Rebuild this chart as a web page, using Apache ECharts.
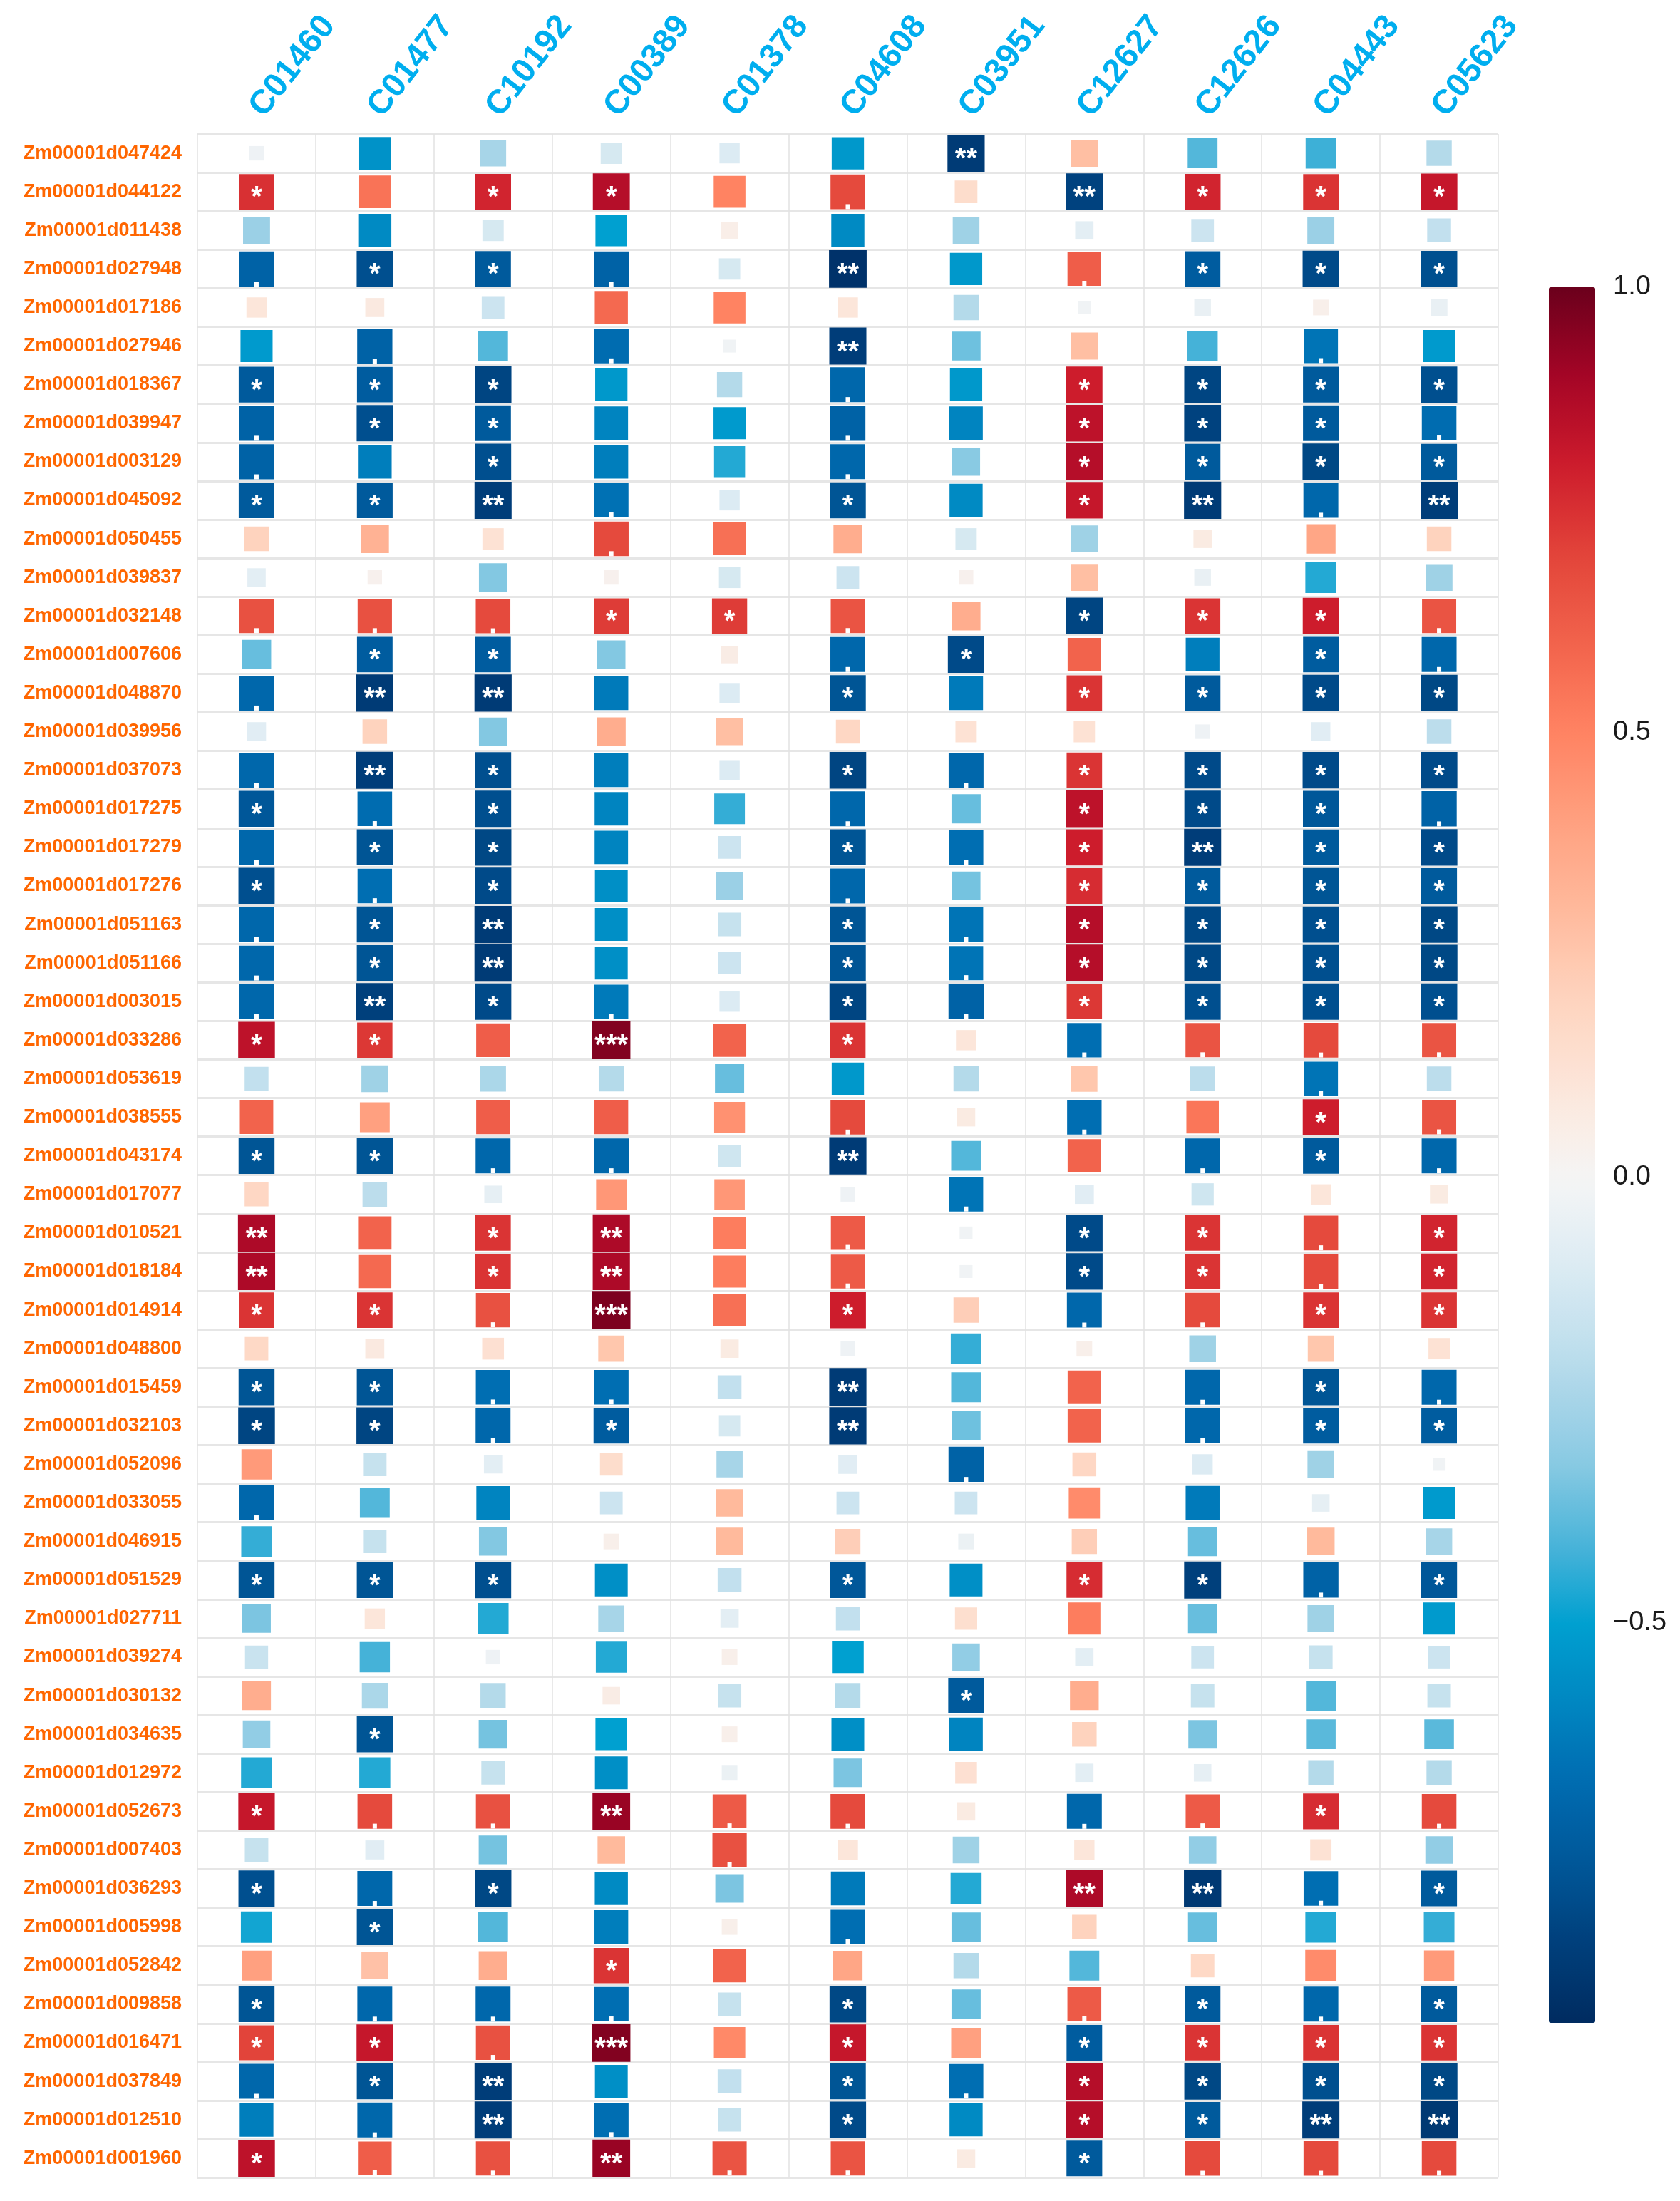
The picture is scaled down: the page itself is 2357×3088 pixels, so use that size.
<!DOCTYPE html>
<html>
<head>
<meta charset="utf-8">
<script src="https://cdn.jsdelivr.net/npm/echarts@6/dist/echarts.min.js"></script>
<style>
  html, body { margin: 0; padding: 0; background: #fff; }
  #main { width: 2357px; height: 3088px; }
</style>
</head>
<body>
<div id="main"></div>
<script>
// metabolites (columns)
var columns = ['C01460','C01477','C10192','C00389','C01378','C04608','C03951','C12627','C12626','C04443','C05623'];

// genes (rows, top to bottom)
var genes = [
  'Zm00001d047424','Zm00001d044122','Zm00001d011438','Zm00001d027948','Zm00001d017186',
  'Zm00001d027946','Zm00001d018367','Zm00001d039947','Zm00001d003129','Zm00001d045092',
  'Zm00001d050455','Zm00001d039837','Zm00001d032148','Zm00001d007606','Zm00001d048870',
  'Zm00001d039956','Zm00001d037073','Zm00001d017275','Zm00001d017279','Zm00001d017276',
  'Zm00001d051163','Zm00001d051166','Zm00001d003015','Zm00001d033286','Zm00001d053619',
  'Zm00001d038555','Zm00001d043174','Zm00001d017077','Zm00001d010521','Zm00001d018184',
  'Zm00001d014914','Zm00001d048800','Zm00001d015459','Zm00001d032103','Zm00001d052096',
  'Zm00001d033055','Zm00001d046915','Zm00001d051529','Zm00001d027711','Zm00001d039274',
  'Zm00001d030132','Zm00001d034635','Zm00001d012972','Zm00001d052673','Zm00001d007403',
  'Zm00001d036293','Zm00001d005998','Zm00001d052842','Zm00001d009858','Zm00001d016471',
  'Zm00001d037849','Zm00001d012510','Zm00001d001960'
];

// correlation coefficients, one row per gene, in column order
var corr = [
  [-0.03,-0.55,-0.25,-0.12,-0.10,-0.53,-0.88, 0.28,-0.40,-0.43,-0.22],
  [ 0.75, 0.55, 0.78, 0.86, 0.50, 0.68, 0.15,-0.85, 0.78, 0.74, 0.82],
  [-0.28,-0.58,-0.12,-0.50, 0.05,-0.58,-0.27,-0.07,-0.15,-0.28,-0.18],
  [-0.72,-0.80,-0.76,-0.72,-0.12,-0.92,-0.53, 0.62,-0.75,-0.82,-0.80],
  [ 0.10, 0.08,-0.15, 0.58, 0.50, 0.10,-0.22,-0.02,-0.05, 0.04,-0.05],
  [-0.52,-0.72,-0.40,-0.68,-0.02,-0.87,-0.36, 0.28,-0.42,-0.65,-0.52],
  [-0.76,-0.75,-0.84,-0.53,-0.22,-0.70,-0.53, 0.80,-0.84,-0.76,-0.80],
  [-0.72,-0.80,-0.76,-0.60,-0.52,-0.72,-0.60, 0.84,-0.85,-0.76,-0.68],
  [-0.72,-0.62,-0.80,-0.62,-0.46,-0.70,-0.32, 0.86,-0.76,-0.83,-0.76],
  [-0.76,-0.76,-0.87,-0.66,-0.10,-0.78,-0.58, 0.82,-0.88,-0.70,-0.87],
  [ 0.20, 0.33, 0.12, 0.68, 0.56, 0.35,-0.12,-0.27, 0.07, 0.38, 0.20],
  [-0.07, 0.03,-0.33, 0.03,-0.12,-0.15, 0.03, 0.28,-0.05,-0.46,-0.27],
  [ 0.66, 0.66, 0.68, 0.72, 0.72, 0.65, 0.35,-0.84, 0.74, 0.80, 0.65],
  [-0.37,-0.75,-0.75,-0.33, 0.06,-0.70,-0.82, 0.60,-0.62,-0.75,-0.70],
  [-0.70,-0.88,-0.88,-0.63,-0.10,-0.78,-0.63, 0.74,-0.76,-0.82,-0.83],
  [-0.08, 0.20,-0.33, 0.35, 0.28, 0.18, 0.12, 0.12,-0.03,-0.08,-0.20],
  [-0.70,-0.87,-0.80,-0.62,-0.10,-0.84,-0.70, 0.74,-0.82,-0.82,-0.82],
  [-0.77,-0.68,-0.80,-0.60,-0.44,-0.70,-0.37, 0.84,-0.82,-0.77,-0.72],
  [-0.70,-0.78,-0.83,-0.60,-0.15,-0.78,-0.67, 0.80,-0.87,-0.76,-0.82],
  [-0.80,-0.67,-0.82,-0.56,-0.28,-0.70,-0.35, 0.76,-0.76,-0.78,-0.76],
  [-0.70,-0.78,-0.88,-0.56,-0.17,-0.78,-0.65, 0.86,-0.83,-0.80,-0.83],
  [-0.70,-0.78,-0.88,-0.56,-0.15,-0.78,-0.65, 0.86,-0.83,-0.80,-0.83],
  [-0.70,-0.86,-0.82,-0.63,-0.10,-0.84,-0.72, 0.73,-0.80,-0.80,-0.80],
  [ 0.84, 0.73, 0.62, 0.96, 0.60, 0.74, 0.10,-0.67, 0.65, 0.68, 0.65],
  [-0.18,-0.27,-0.24,-0.22,-0.37,-0.53,-0.22, 0.25,-0.20,-0.65,-0.20],
  [ 0.60, 0.40, 0.62, 0.62, 0.45, 0.68, 0.07,-0.67, 0.54, 0.80, 0.65],
  [-0.78,-0.78,-0.70,-0.70,-0.14,-0.88,-0.40, 0.60,-0.70,-0.76,-0.70],
  [ 0.18,-0.20,-0.06, 0.43, 0.43,-0.03,-0.65,-0.08,-0.14, 0.10, 0.07],
  [ 0.88, 0.60, 0.74, 0.88, 0.52, 0.63,-0.02,-0.82, 0.74, 0.68, 0.78],
  [ 0.88, 0.58, 0.74, 0.88, 0.52, 0.63,-0.02,-0.82, 0.74, 0.68, 0.78],
  [ 0.74, 0.74, 0.66, 0.97, 0.56, 0.80, 0.22,-0.70, 0.68, 0.74, 0.74],
  [ 0.17, 0.08, 0.13, 0.25, 0.07,-0.03,-0.44, 0.04,-0.27, 0.25, 0.12],
  [-0.78,-0.78,-0.67,-0.67,-0.18,-0.88,-0.40, 0.60,-0.70,-0.78,-0.70],
  [-0.84,-0.84,-0.70,-0.75,-0.12,-0.88,-0.36, 0.60,-0.70,-0.75,-0.75],
  [ 0.42,-0.17,-0.07, 0.15,-0.25,-0.08,-0.72, 0.18,-0.10,-0.27,-0.02],
  [-0.70,-0.40,-0.60,-0.15, 0.30,-0.15,-0.15, 0.47,-0.63,-0.06,-0.52],
  [-0.44,-0.17,-0.33, 0.04, 0.30, 0.22,-0.04, 0.22,-0.37, 0.30,-0.25],
  [-0.78,-0.78,-0.80,-0.56,-0.18,-0.77,-0.56, 0.76,-0.86,-0.72,-0.77],
  [-0.34, 0.10,-0.46,-0.25,-0.07,-0.18, 0.14, 0.52,-0.37,-0.27,-0.52],
  [-0.16,-0.42,-0.03,-0.46, 0.04,-0.50,-0.30,-0.07,-0.15,-0.17,-0.15],
  [ 0.35,-0.24,-0.22, 0.06,-0.17,-0.22,-0.76, 0.35,-0.17,-0.40,-0.17],
  [-0.30,-0.78,-0.35,-0.50, 0.04,-0.56,-0.60, 0.20,-0.34,-0.39,-0.39],
  [-0.46,-0.46,-0.17,-0.56,-0.04,-0.34, 0.13,-0.07,-0.06,-0.22,-0.22],
  [ 0.82, 0.68, 0.66, 0.92, 0.63, 0.68, 0.07,-0.70, 0.63, 0.76, 0.68],
  [-0.17,-0.08,-0.35, 0.30, 0.66, 0.10,-0.27, 0.10,-0.30, 0.12,-0.30],
  [-0.80,-0.70,-0.83,-0.58,-0.34,-0.63,-0.46, 0.88,-0.89,-0.67,-0.76],
  [-0.48,-0.78,-0.40,-0.62, 0.04,-0.67,-0.37, 0.20,-0.37,-0.46,-0.44],
  [ 0.40, 0.27, 0.35, 0.74, 0.60, 0.38,-0.22,-0.40, 0.17, 0.47, 0.42],
  [-0.78,-0.70,-0.70,-0.67,-0.17,-0.83,-0.37, 0.63,-0.76,-0.70,-0.76],
  [ 0.70, 0.82, 0.66, 0.96, 0.48, 0.82, 0.40,-0.75, 0.74, 0.74, 0.74],
  [-0.70,-0.78,-0.87,-0.56,-0.18,-0.78,-0.67, 0.86,-0.83,-0.80,-0.83],
  [-0.62,-0.70,-0.87,-0.67,-0.17,-0.82,-0.58, 0.86,-0.76,-0.87,-0.89],
  [ 0.84, 0.62, 0.66, 0.92, 0.65, 0.65, 0.07,-0.76, 0.68, 0.68, 0.68]
];

// significance codes per row: ' ' none, '.' p<0.1, '1' *, '2' **, '3' ***
var signif = [
  '      2    ', '1 11 . 2111', '           ', '.11. 2 .111', '           ',
  ' . . 2   . ', '111  . 1111', '.11  . 111.', '. 1  . 1111', '112. 1 12.2',
  '   .       ', '           ', '...11. 111.', ' 11  .1  1.', '.22  1 1111',
  '           ', '.21  1.1111', '1.1  . 111.', '.11  1.1211', '1.1  . 1111',
  '.12  1.1111', '.12  1.1111', '.21. 1.1111', '11 3 1 ....', '         . ',
  '     . . 1.', '11.. 2  .1.', '      .    ', '2 12 . 11.1', '2 12 . 11.1',
  '11.3 1 ..11', '           ', '11.. 2  .1.', '11.1 2  .11', '      .    ',
  '.          ', '           ', '111  1 11.1', '           ', '           ',
  '      1    ', ' 1         ', '           ', '1..2.. ..1.', '    .      ',
  '1.1    22.1', ' 1   .     ', '   1       ', '1... 1 .1.1', '11.3 1 1111',
  '.12  1.1111', ' .2. 1 1122', '1..2.. 1...'
];

// colour bar tick labels
var barTicks = [-0.5, 0, 0.5, 1];
var barMin = -0.95, barMax = 1;

var FONT = '"Liberation Sans", Arial, sans-serif';
var ROW_H = 54.1;

// colour ramp of the reference bar
var stops = [
  [-0.95,'#002b60'],[-0.85,'#00427f'],[-0.75,'#005c9f'],[-0.68,'#006bb0'],
  [-0.6,'#0084c0'],[-0.5,'#00a0d0'],[-0.42,'#45b2d8'],[-0.32,'#8acae3'],
  [-0.2,'#bcddec'],[-0.1,'#dcebf3'],[0,'#f5f5f5'],[0.1,'#fce6da'],
  [0.2,'#fed3be'],[0.3,'#ffba9c'],[0.4,'#ffa080'],[0.5,'#ff8362'],
  [0.6,'#f2634c'],[0.7,'#e2443a'],[0.8,'#cd1c2c'],[0.9,'#a50526'],[1,'#6b001c']
];
function hex2rgb(h){ return [parseInt(h.substr(1,2),16),parseInt(h.substr(3,2),16),parseInt(h.substr(5,2),16)]; }
function rampAt(v){
  for (var i = 1; i < stops.length; i++) {
    if (v <= stops[i][0]) {
      var a = stops[i-1], b = stops[i], t = (v - a[0]) / (b[0] - a[0]);
      var ca = hex2rgb(a[1]), cb = hex2rgb(b[1]);
      return 'rgb(' + [0,1,2].map(function(k){ return Math.round(ca[k] + (cb[k]-ca[k])*t); }).join(',') + ')';
    }
  }
  return stops[stops.length-1][1];
}
var rampColors = [];
for (var s = 0; s <= 78; s++) rampColors.push(rampAt(barMin + (barMax - barMin) * s / 78));

function sideOf(v){ return Math.max(10, ROW_H * Math.pow(Math.abs(v), 0.28)); }

var starText = { '1': '*', '2': '**', '3': '***' };
var cells = [], dots = [];
corr.forEach(function(row, r){
  row.forEach(function(v, c){
    var code = signif[r].charAt(c);
    cells.push({ name: starText[code] || '', value: [c, r, v] });
    if (code === '.') {
      dots.push({ value: [c, r], symbolOffset: [0, sideOf(v) / 2 - 3.5] });
    }
  });
});

var chart = echarts.init(document.getElementById('main'));
chart.setOption({
  animation: false,
  backgroundColor: '#ffffff',
  grid: [
    { left: 277, top: 188, width: 1825, height: 53 * ROW_H },
    { left: 2173, top: 403, width: 65, height: 2435 }
  ],
  xAxis: [
    {
      type: 'category', data: columns, position: 'top', gridIndex: 0,
      axisLine: { show: false }, axisTick: { show: false },
      axisLabel: { interval: 0, rotate: -52, margin: 30, fontSize: 47, fontWeight: 'bold',
                   color: '#00aeef', fontFamily: FONT },
      splitLine: { show: true, interval: 0, lineStyle: { color: '#e2e2e2', width: 1.5 } }
    },
    { type: 'value', gridIndex: 1, show: false, min: 0, max: 1 }
  ],
  yAxis: [
    {
      type: 'category', data: genes, inverse: true, gridIndex: 0,
      axisLine: { show: false }, axisTick: { show: false },
      axisLabel: { interval: 0, margin: 22, fontSize: 27, fontWeight: 'bold',
                   color: '#ff6600', fontFamily: FONT },
      splitLine: { show: true, interval: 0, lineStyle: { color: '#e6e6e6', width: 3 } }
    },
    {
      type: 'value', gridIndex: 1, position: 'right', min: barMin, max: barMax,
      axisLine: { show: false }, splitLine: { show: false },
      axisTick: { show: true, inside: true, length: 16, customValues: [-0.5, 0, 0.5],
                  lineStyle: { color: '#ffffff', width: 2 } },
      axisLabel: { customValues: barTicks, margin: 25, fontSize: 38, color: '#1a1a1a', fontFamily: FONT,
                   formatter: function(v){ return (v < 0 ? '\u2212' : '') + Math.abs(v).toFixed(1); } }
    },
    {
      type: 'value', gridIndex: 1, position: 'left', min: barMin, max: barMax,
      axisLine: { show: false }, splitLine: { show: false }, axisLabel: { show: false },
      axisTick: { show: true, inside: true, length: 16, customValues: [-0.5, 0, 0.5],
                  lineStyle: { color: '#ffffff', width: 2 } }
    }
  ],
  visualMap: {
    type: 'continuous', seriesIndex: 0, dimension: 2,
    min: barMin, max: barMax, calculable: false, orient: 'vertical',
    left: 2173, top: 403, itemWidth: 65, itemHeight: 2435, padding: 0,
    text: null, showLabel: false, z: 1,
    inRange: { color: rampColors }
  },
  series: [
    {
      type: 'scatter', xAxisIndex: 0, yAxisIndex: 0,
      symbol: 'rect',
      symbolSize: function(val){ return sideOf(val[2]); },
      itemStyle: { opacity: 1 },
      data: cells,
      label: {
        show: true, position: 'inside', formatter: '{b}', offset: [0, 9],
        color: '#ffffff', fontSize: 40, fontWeight: 'bold', fontFamily: FONT
      },
      z: 3
    },
    {
      type: 'scatter', xAxisIndex: 0, yAxisIndex: 0,
      symbol: 'rect', symbolSize: [6, 7],
      itemStyle: { color: '#ffffff', opacity: 1 },
      silent: true,
      data: dots,
      z: 4
    }
  ]
});
</script>
</body>
</html>
